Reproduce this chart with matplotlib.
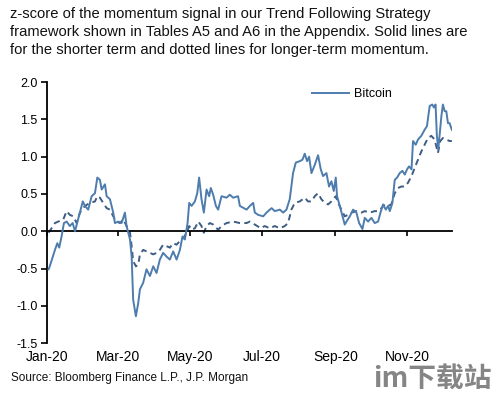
import matplotlib
matplotlib.use("Agg")
import matplotlib.pyplot as plt
import datetime as dt

plt.rcParams['font.family'] = ['Liberation Sans', 'DejaVu Sans']

# Day offsets from 2020-01-01 and z-score values
short_days = [1, 2, 6.4, 8.4, 10, 12, 14, 16.3, 19, 21.4, 23.4, 26, 30, 31.8, 34.6, 37.5, 40.3, 42.3,
              44.5, 46, 48.8, 50.2, 53, 55.8, 57.2, 60, 62.9, 65.7, 67.1, 70, 71.4, 72.7, 75, 77,
              78.4, 81.2, 84, 86.9, 89.7, 92.5, 95.3, 98.1, 101, 103.8, 106.6, 109.5, 112.3, 114.5,
              116.5, 118.8, 120.2, 122.2, 125, 127, 128.6, 130.6, 132.6, 134.9, 137.1, 138.5, 140.5,
              142.8, 144.7, 147.6, 151.8, 154.6, 157.4, 161.6, 163.1, 168.8,
              171.6, 174.4, 175.8, 178.6, 182.9, 185.7, 190, 192.7, 197, 199.8, 202.6, 205.4, 208.2,
              210.5, 213.9, 216.2, 218.1, 220.1, 221.8, 223.8, 226.6, 229.4, 231.7, 233.6, 236.5,
              238.7, 240.7, 242.7, 244.4, 245.5, 247.8, 250.1, 252, 253.5, 256.3, 259.1, 261.9,
              264.2, 267, 269, 271.8, 274.6, 277.4, 280.3, 282.3, 284.5, 286.8, 288.8, 290.2, 292.4,
              294.4, 296.4, 298.6, 300.9, 302.9, 304.8, 306.5, 308.6, 309.9, 312.2, 314.1, 316.9,
              319.7, 321.7, 324, 326.2, 327.6, 329, 330.1, 331.3, 332.4, 333.9, 335.2, 336.7, 338.1,
              339.5, 340.9, 342.8]
short_vals = [-0.51, -0.47, -0.25, -0.16, -0.22, -0.07, 0.11, 0.13, 0.07, 0.11, 0.0, 0.16, 0.40, 0.34,
              0.29, 0.47, 0.51, 0.72, 0.69, 0.56, 0.63, 0.47, 0.43, 0.25, 0.11, 0.13, 0.11, 0.25, 0.07,
              -0.11, -0.34, -0.92, -1.14, -0.96, -0.78, -0.69, -0.51, -0.60, -0.47, -0.56, -0.38,
              -0.29, -0.34, -0.38, -0.27, -0.38, -0.25, -0.07, -0.11, 0.11, 0.38, 0.34, 0.40, 0.51,
              0.72, 0.43, 0.25, 0.56, 0.47, 0.58, 0.49, 0.34, 0.29, 0.47, 0.45, 0.49, 0.45, 0.47,
              0.34, 0.29,
              0.34, 0.38, 0.25, 0.22, 0.20, 0.25, 0.31, 0.27, 0.29, 0.25, 0.29, 0.43, 0.78, 0.92,
              0.94, 0.96, 1.04, 0.94, 1.00, 0.78, 0.89, 1.02, 0.83, 0.74, 0.78, 0.60, 0.67, 0.54,
              0.72, 0.47, 0.34, 0.20, 0.09, 0.13, 0.20, 0.29, 0.25, 0.11, 0.03, 0.18, 0.13, 0.18,
              0.11, 0.13, 0.25, 0.36, 0.29, 0.34, 0.27, 0.38, 0.69, 0.72, 0.78, 0.81, 0.76, 0.83,
              0.87, 0.83, 1.21, 1.16, 1.23, 1.28, 1.36, 1.41, 1.68, 1.70, 1.66, 1.70, 1.28, 1.10,
              1.28, 1.54, 1.70, 1.61, 1.61, 1.45, 1.45, 1.36]

long_days = [1, 6.4, 9.2, 13.5, 16.3, 19, 21.9, 24.8, 27.6, 31.8, 36, 40.3, 42.3, 44.5, 47.3, 50.2,
             53, 55.8, 58.7, 61.5, 64.3, 67.1, 70, 71.4, 72.7, 75, 77, 78.4, 81.2, 84, 86.9, 89.7,
             92.5, 95.3, 98.1, 101, 103.8, 106.6, 109.5, 112.3, 115.3, 118, 120.2, 122.2, 125,
             127.9, 130.6, 132.6, 134.9, 137.7, 140.5, 144.7, 147.6, 151.8, 157.4, 163.1, 168.8,
             171.6, 175.8, 180.8, 184.2, 188.5, 192.7, 197, 201.2, 204, 206.8, 209.6, 213.9, 218.1,
             220.9, 223.8, 226.6, 229.4, 232.2, 235.1, 237.9, 240.7, 244.4, 246.4, 249.2, 252,
             254.8, 257.6, 261.9, 266.1, 269, 273.2, 277.4, 280.3, 283.1, 285.9, 288.8, 291.5,
             294.4, 297.1, 300, 302.9, 305.6, 308.6, 311.3, 314.1, 316.9, 319.7, 322.5, 325.4,
             328.2, 329.6, 331, 333, 335.2, 338.1, 340.9, 342.8]
long_vals = [-0.02, 0.11, 0.13, 0.16, 0.27, 0.22, 0.20, 0.11, 0.25, 0.34, 0.38, 0.40, 0.47, 0.45,
             0.38, 0.31, 0.29, 0.20, 0.13, 0.11, 0.16, 0.07, -0.02, -0.20, -0.40, -0.47, -0.45,
             -0.31, -0.25, -0.27, -0.29, -0.31, -0.29, -0.25, -0.18, -0.20, -0.22, -0.16, -0.18,
             -0.13, -0.09, -0.02, 0.07, 0.02, 0.04, 0.13, 0.07, -0.02, 0.07, 0.11, 0.09, 0.02,
             0.07, 0.11, 0.13, 0.11, 0.11,
             0.13, 0.09, 0.04, 0.07, 0.04, 0.07, 0.04, 0.07, 0.11, 0.29, 0.38, 0.40, 0.45, 0.40,
             0.40, 0.47, 0.51, 0.43, 0.38, 0.36, 0.40, 0.47, 0.38, 0.29, 0.20, 0.22, 0.25, 0.27,
             0.25, 0.27, 0.25, 0.27, 0.27, 0.31, 0.36, 0.34, 0.36, 0.51, 0.58, 0.60, 0.60, 0.65,
             0.74, 0.85, 0.96, 1.07, 1.16, 1.25, 1.28, 1.23, 1.14, 1.05, 1.21, 1.25, 1.23, 1.21,
             1.21]

y_ticks = [-1.5, -1.0, -0.5, 0.0, 0.5, 1.0, 1.5, 2.0]
x_tick_labels = ["Jan-20", "Mar-20", "May-20", "Jul-20", "Sep-20", "Nov-20"]

title = ("z-score of the momentum signal in our Trend Following Strategy\n"
         "framework shown in Tables A5 and A6 in the Appendix. Solid lines are\n"
         "for the shorter term and dotted lines for longer-term momentum.")
source = "Source: Bloomberg Finance L.P., J.P. Morgan"
watermark = "im下载站"

start = dt.datetime(2020, 1, 1)
sd = [start + dt.timedelta(days=d) for d in short_days]
ld = [start + dt.timedelta(days=d) for d in long_days]

fig = plt.figure(figsize=(4.99, 3.93), dpi=100)

# watermark (drawn first, behind everything)
fig.text(0.748, 0.0, watermark, ha='left', va='bottom', fontsize=20, fontweight='bold',
         color='#858585', family=['Noto Sans CJK SC', 'DejaVu Sans'], zorder=0)

ax = fig.add_axes([0.095, 0.127, 0.811, 0.664])
ax.patch.set_alpha(0)

solid_c = '#4d7cad'
dash_c = '#3d5d85'
ax.plot(sd, short_vals, color=solid_c, lw=1.4, label='Bitcoin', zorder=3)
ax.plot(ld, long_vals, color=dash_c, lw=1.4, ls=(0, (3.2, 2.2)), zorder=2)

ax.set_ylim(-1.5, 2.0)
ax.set_xlim(start, start + dt.timedelta(days=343))
ax.set_yticks(y_ticks)
ax.set_yticklabels([f"{v:.1f}" for v in y_ticks], fontsize=9)

xt = [dt.datetime(2020, m, 1) for m in (1, 3, 5, 7, 9, 11)]
ax.set_xticks(xt)
ax.set_xticklabels(x_tick_labels, fontsize=9)

for s in ('top', 'right'):
    ax.spines[s].set_visible(False)
ax.spines['bottom'].set_position(('data', 0))
ax.spines['bottom'].set_linewidth(1.3)
ax.spines['left'].set_linewidth(1.3)
ax.tick_params(axis='y', direction='out', length=4, width=1.2, pad=3)
ax.tick_params(axis='x', direction='out', length=3.5, width=1.2, pad=82)

ax.legend(loc='upper left', bbox_to_anchor=(0.625, 1.02), frameon=False, fontsize=9,
          handlelength=3.0, handletextpad=0.4)

fig.text(0.02, 0.982, title, ha='left', va='top', fontsize=10.6, linespacing=1.36, color='#111111')
fig.text(0.022, 0.022, source, ha='left', va='bottom', fontsize=8.5, color='#111111')

fig.savefig("out.png", dpi=100)
